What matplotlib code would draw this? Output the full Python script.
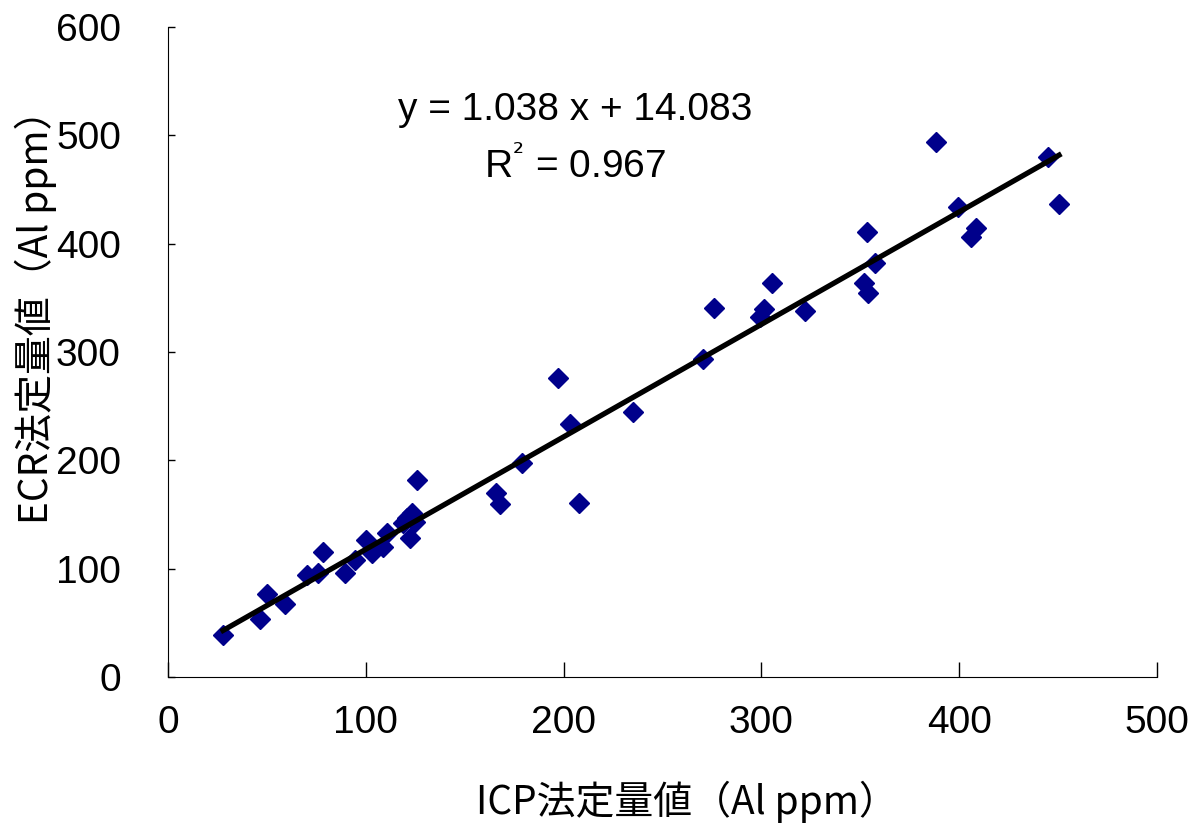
import matplotlib
matplotlib.use("Agg")
import matplotlib.pyplot as plt
import numpy as np

# ICP vs ECR quantification values (Al ppm)
icpValues = [27.8, 46.5, 50.0, 59.0, 70.0, 75.8, 78.4, 89.5, 94.5, 100.1,
             103.0, 108.9, 110.6, 119.0, 121.0, 123.2, 122.3, 125.9, 125.0,
             165.8, 167.8, 178.8, 197.3, 203.0, 207.8, 235.3, 270.6, 276.2,
             299.3, 301.5, 305.5, 322.0, 352.0, 353.2, 353.7, 357.4, 388.3,
             399.6, 406.0, 408.5, 445.0, 450.5]
ecrValues = [38.8, 53.5, 76.6, 67.4, 94.0, 96.0, 115.0, 95.7, 108.0, 126.5,
             114.2, 120.3, 132.5, 141.7, 146.8, 151.0, 128.0, 181.9, 143.0,
             170.0, 159.7, 197.2, 276.3, 233.5, 160.2, 244.3, 293.3, 340.3,
             332.0, 339.4, 364.0, 337.9, 364.0, 411.0, 354.8, 381.9, 493.5,
             434.2, 405.8, 414.0, 480.3, 436.2]

# Trendline as reported on the chart
slope = 1.038
intercept = 14.083
rSquared = 0.967

xTicks = [0, 100, 200, 300, 400, 500]
yTicks = [0, 100, 200, 300, 400, 500, 600]

plt.rcParams['font.family'] = ['Liberation Sans', 'Noto Sans CJK JP', 'DejaVu Sans']
labelFont = ['Noto Sans CJK JP', 'DejaVu Sans']

fig = plt.figure(figsize=(11.92, 8.27), dpi=100)
ax = fig.add_axes([0.141, 0.1814, 0.8296, 0.786])

ax.plot(icpValues, ecrValues, linestyle='none', marker='D', markersize=10,
        color='#00008B', zorder=2)

# Linear trendline across the data range
lineX = np.array([min(icpValues), max(icpValues)])
ax.plot(lineX, slope * lineX + intercept, color='black', linewidth=3.8, zorder=3)

ax.text(206, 523, "y = %.3f x + %.3f" % (slope, intercept), fontsize=28,
        ha='center', va='center')
ax.text(206, 472, "R$^{²}$ = %.3f" % rSquared, fontsize=28, ha='center', va='center')

ax.set_xlim(0, 500)
ax.set_ylim(0, 600)
ax.set_xticks(xTicks)
ax.set_yticks(yTicks)
ax.tick_params(axis='both', direction='in', labelsize=28, width=1)
ax.tick_params(axis='x', length=11, pad=20)
ax.tick_params(axis='y', length=5, pad=34)

for side in ['top', 'right']:
    ax.spines[side].set_visible(False)

ax.set_xlabel("ICP法定量値（Al ppm）", fontsize=28, family=labelFont)
ax.set_ylabel("ECR法定量値（Al ppm）", fontsize=28, family=labelFont)
ax.xaxis.set_label_coords(0.525, -0.16)
ax.yaxis.set_label_coords(-0.112, 0.569)

plt.savefig("out.png", dpi=100)
